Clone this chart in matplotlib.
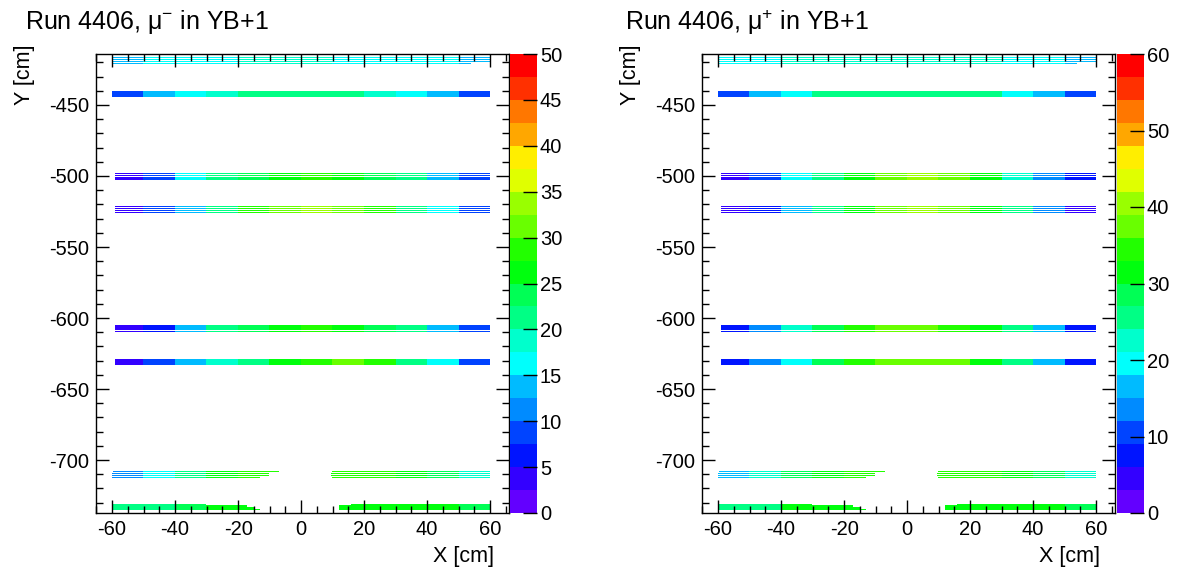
import colorsys
import numpy as np
import matplotlib
matplotlib.use("Agg")
import matplotlib.pyplot as plt
from matplotlib.colors import ListedColormap, BoundaryNorm
from matplotlib.ticker import MultipleLocator

plt.rcParams['font.family'] = ['Liberation Sans', 'DejaVu Sans']
plt.rcParams['mathtext.fontset'] = 'custom'
plt.rcParams['mathtext.rm'] = 'Liberation Sans'
plt.rcParams['mathtext.it'] = 'Liberation Sans:italic'
plt.rcParams['axes.unicode_minus'] = False

# ---------------- data ----------------
titles = [r'Run 4406, $\mathrm{\mu}^{-}$ in YB+1', r'Run 4406, $\mathrm{\mu}^{+}$ in YB+1']
zmax = [50, 60]
cbar_ticks = [[0, 5, 10, 15, 20, 25, 30, 35, 40, 45, 50], [0, 10, 20, 30, 40, 50, 60]]

# x segments (10 cm wide) over which a strip value is read
seg_edges = [-60, -50, -40, -30, -20, -10, 0, 10, 20, 30, 40, 50, 60]

# strip (chamber superlayer) centres in Y [cm]
strip_y = [-418.7, -442.3, -500.2, -523.6, -607.6, -631.0, -710.2, -733.1]

# x extents of each of the 4 layers of each strip (top layer first)
full = [(-60, 60)]
inner = [(-59, 60)]
strip_x = [
    [full, full, full, [(-60, 54)]],
    [full, full, full, full],
    [inner, inner, inner, inner],
    [inner, inner, inner, inner],
    [inner, inner, inner, inner],
    [inner, inner, inner, inner],
    [[(-59.5, -7), (10, 60)], [(-60, -10), (9.5, 60)],
     [(-60, -10), (9.5, 60)], [(-60, -13), (10, 60)]],
    [[(-60, -30), (16, 60)], [(-60, -17), (12, 60)],
     [(-60, -15), (12, 60)], [(-60, -13), (12, 60)]],
]

# mu- : counts per 10 cm segment for each strip
mum_vals = [
    [14, 16, 17, 17, 18, 18, 18, 17, 17, 16, 15, 13],
    [8, 13, 17, 19, 20, 21, 21, 20, 18, 16, 13, 8],
    [4, 8, 15, 20, 24, 27, 28, 27, 24, 20, 14, 8],
    [3, 8, 14, 22, 28, 32, 34, 32, 28, 22, 15, 8],
    [3, 7, 14, 20, 24, 27, 28, 26, 24, 20, 14, 8],
    [4, 8, 13, 18, 22, 26, 28, 30, 28, 22, 15, 8],
    [12, 16, 22, 26, 28, 28, 27, 28, 28, 27, 24, 18],
    [20, 22, 24, 26, 26, 26, 26, 26, 27, 27, 26, 24],
]

# mu+ : counts per 10 cm segment for each strip
mup_vals = [
    [18, 20, 21, 22, 22, 22, 22, 22, 21, 20, 19, 17],
    [10, 16, 20, 24, 25, 26, 26, 25, 24, 20, 16, 10],
    [4, 10, 18, 26, 32, 38, 40, 36, 30, 22, 14, 6],
    [3, 8, 16, 24, 32, 38, 40, 38, 32, 24, 14, 5],
    [6, 14, 22, 28, 34, 36, 36, 34, 30, 24, 16, 8],
    [6, 12, 20, 28, 34, 36, 36, 36, 32, 26, 16, 8],
    [16, 22, 28, 32, 34, 34, 34, 34, 34, 32, 28, 22],
    [24, 26, 30, 32, 32, 32, 32, 32, 32, 32, 30, 28],
]
panel_vals = [mum_vals, mup_vals]

n_layers = 4
layer_pitch = 1.3
layer_thick = 0.9

# ---------------- style ----------------
def root_palette():
    pal = []
    for i in range(50):
        hue = 280 - (i + 1) * 280 / 50
        pal.append(colorsys.hls_to_rgb(hue / 360.0, 0.5, 1.0))
    return pal

pal = root_palette()
ncont = 20
cmap = ListedColormap([pal[int((i + 0.99) * 50 / ncont)] for i in range(ncont)])
cmap.set_bad((1, 1, 1, 0))

W, H = 1181, 576
fig = plt.figure(figsize=(W / 100, H / 100), dpi=100)

ax_left_px = [96, 702]
cb_left_px = [510, 1117]
ax_w_px = 413
top_px, bot_px = 54, 513
title_x_px = [25, 625]

XLIM = (-65.1, 66.0)
YLIM = (-737.3, -414.1)
dx, dy = 0.5, 0.05
gx = np.arange(XLIM[0], XLIM[1] + 1e-9, dx)
gy = np.arange(YLIM[0], YLIM[1] + 1e-9, dy)
xc_grid = 0.5 * (gx[:-1] + gx[1:])
yc_grid = 0.5 * (gy[:-1] + gy[1:])

for p in range(2):
    ax = fig.add_axes([ax_left_px[p] / W, (H - bot_px) / H, ax_w_px / W, (bot_px - top_px) / H])
    levels = np.linspace(0, zmax[p], ncont + 1)
    norm = BoundaryNorm(levels, cmap.N)
    img = np.full((len(yc_grid), len(xc_grid)), np.nan)
    for s, yc in enumerate(strip_y):
        vals = np.array(panel_vals[p][s], dtype=float)
        k = np.clip(np.searchsorted(seg_edges, xc_grid, side='right') - 1, 0, len(vals) - 1)
        row = vals[k]
        for j in range(n_layers):
            xmask = np.zeros(len(xc_grid), dtype=bool)
            for (lo, hi) in strip_x[s][j]:
                xmask |= (xc_grid >= lo) & (xc_grid <= hi)
            c = yc + (1.5 - j) * layer_pitch
            ymask = np.abs(yc_grid - c) <= layer_thick / 2
            for r in np.where(ymask)[0]:
                img[r, xmask] = row[xmask]
    im = ax.imshow(img, origin='lower', extent=[gx[0], gx[-1], gy[0], gy[-1]],
                   aspect='auto', interpolation='nearest', cmap=cmap, norm=norm)
    ax.set_xlim(*XLIM)
    ax.set_ylim(*YLIM)
    ax.xaxis.set_major_locator(MultipleLocator(20))
    ax.xaxis.set_minor_locator(MultipleLocator(5))
    ax.yaxis.set_major_locator(MultipleLocator(50))
    ax.yaxis.set_minor_locator(MultipleLocator(10))
    ax.tick_params(which='both', direction='in', top=True, right=True, width=1.0,
                   labelsize=14.5, pad=5)
    ax.tick_params(which='major', length=9.5)
    ax.tick_params(which='minor', length=4.8)
    for sp in ax.spines.values():
        sp.set_linewidth(1.0)
    ax.text(-0.172, 1.02, 'Y [cm]', transform=ax.transAxes, rotation=90,
            ha='center', va='top', fontsize=15.5)
    ax.text(0.963, -0.094, 'X [cm]', transform=ax.transAxes,
            ha='right', va='center', fontsize=15.5)
    fig.text(title_x_px[p] / W, 1 - 22 / H, titles[p], ha='left', va='center', fontsize=18)

    cax = fig.add_axes([cb_left_px[p] / W, (H - bot_px) / H, 27 / W, (bot_px - top_px) / H])
    cb = fig.colorbar(im, cax=cax, ticks=cbar_ticks[p])
    cb.outline.set_visible(False)
    cax.tick_params(direction='in', length=10, width=1.0, labelsize=14.5, pad=2)
    cax.minorticks_off()

fig.savefig('out.png', dpi=100)
